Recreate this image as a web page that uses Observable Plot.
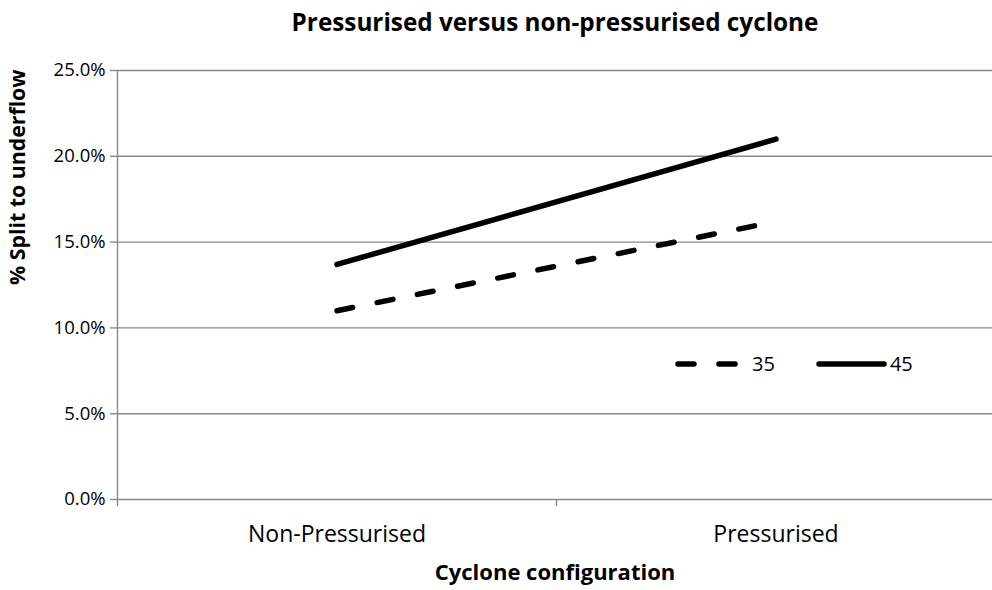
<!DOCTYPE html>
<html>
<head>
<meta charset="utf-8">
<script src="https://cdn.jsdelivr.net/npm/d3@7"></script>
<script src="https://cdn.jsdelivr.net/npm/@observablehq/plot@0.6"></script>
<style>
  html, body { margin: 0; padding: 0; background: #fff; }
  #wrap { position: relative; width: 992px; height: 590px; font-family: "Open Sans", sans-serif; }
  #legend { position: absolute; left: 674px; top: 352px; display: flex; align-items: center; font-size: 20px; color: #000; line-height: 24px; }
  #legend span { margin-left: 6px; }
</style>
</head>
<body>
<div id="wrap">
  <div id="chart"></div>
  <div id="legend"></div>
</div>
<script>
const categories = ["Non-Pressurised", "Pressurised"];
const seriesNames = ["35", "45"];
const values35 = [11.0, 16.2];
const values45 = [13.7, 21.0];
const yTicks = [0, 5, 10, 15, 20, 25];
const seriesDash = {"35": "16,25", "45": null};

const rows = [];
categories.forEach((c, i) => {
  rows.push({series: "35", cat: c, idx: i + 0.5, value: values35[i]});
  rows.push({series: "45", cat: c, idx: i + 0.5, value: values45[i]});
});

const gridColor = "#8a8a8a";
const font = "'Open Sans', sans-serif";

const chart = Plot.plot({
  width: 992,
  height: 590,
  marginLeft: 117,
  marginRight: 0,
  marginTop: 70,
  marginBottom: 91,
  style: {fontFamily: font, fontSize: "18px", color: "#000", background: "#fff"},
  x: {domain: [0, categories.length], range: [117, 995]},
  y: {domain: [0, 25]},
  marks: [
    Plot.ruleY(yTicks, {stroke: gridColor, strokeWidth: 1.4}),
    Plot.axisY({ticks: yTicks, tickSize: 7, tickPadding: 5, stroke: gridColor, strokeWidth: 1.4,
      tickFormat: d => d.toFixed(1) + "%", fontSize: 18.5, label: null}),
    Plot.ruleX([0], {y1: 0, y2: 25, stroke: gridColor, strokeWidth: 1.4}),
    Plot.axisX({ticks: d3.range(categories.length + 1), tickSize: 7, stroke: gridColor, strokeWidth: 1.4,
      tickFormat: () => "", label: null}),
    Plot.axisX({ticks: categories.map((c, i) => i + 0.5), tickSize: 0, tickPadding: 26,
      tickFormat: d => categories[Math.floor(d)], fontSize: 23, label: null}),
    ...seriesNames.map(s => Plot.line(rows.filter(r => r.series === s), {
      x: "idx", y: "value", stroke: "#000", strokeWidth: 5.5, strokeLinecap: "round",
      strokeDasharray: seriesDash[s]
    })),
    Plot.text(["Pressurised versus non-pressurised cyclone"], {frameAnchor: "top", dy: -57,
      text: d => d, fontWeight: "bold", fontSize: 24.3}),
    Plot.text(["Cyclone configuration"], {frameAnchor: "bottom", dy: 80, text: d => d,
      fontWeight: "bold", fontSize: 22}),
    Plot.text(["% Split to underflow"], {frameAnchor: "left", dx: -99, rotate: -90, text: d => d,
      fontWeight: "bold", fontSize: 21.3})
  ]
});
document.getElementById("chart").appendChild(chart);

// legend
const legend = document.getElementById("legend");
seriesNames.forEach((s, i) => {
  const ns = "http://www.w3.org/2000/svg";
  const svg = document.createElementNS(ns, "svg");
  svg.setAttribute("width", 72);
  svg.setAttribute("height", 24);
  if (i > 0) svg.style.marginLeft = "40px";
  const l = document.createElementNS(ns, "line");
  l.setAttribute("x1", 4); l.setAttribute("x2", 69);
  l.setAttribute("y1", 12); l.setAttribute("y2", 12);
  l.setAttribute("stroke", "#000"); l.setAttribute("stroke-width", 5.5);
  l.setAttribute("stroke-linecap", "round");
  if (seriesDash[s]) l.setAttribute("stroke-dasharray", "16,25");
  svg.appendChild(l);
  legend.appendChild(svg);
  const t = document.createElement("span");
  t.textContent = s;
  t.style.marginLeft = i > 0 ? "3px" : "6px";
  legend.appendChild(t);
});
</script>
</body>
</html>
